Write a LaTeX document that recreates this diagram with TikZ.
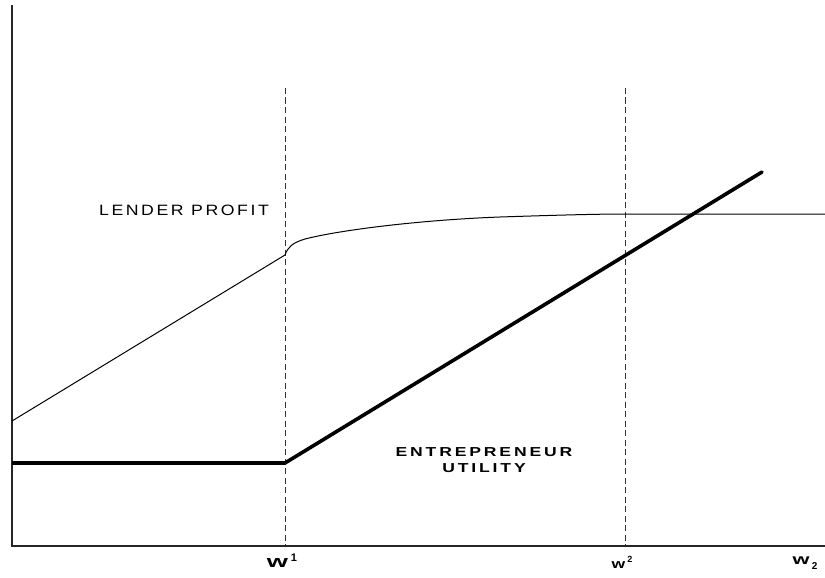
\documentclass[tikz,border=0pt]{standalone}
\usepackage{fontspec}
\usepackage{graphicx}
\setmainfont{Liberation Sans}
\newfontfamily\lblfont[FakeStretch=1.18,LetterSpace=17]{Liberation Sans}
\newfontfamily\boldlblfont[FakeStretch=1.35,LetterSpace=22]{Liberation Sans Bold}
\newfontfamily\wfont{Liberation Sans Bold}
\begin{document}
\begin{tikzpicture}[x=1pt,y=-1pt,
  axisline/.style={line width=1.4pt,black!85},
  guide/.style={line width=1pt,dash pattern=on 6pt off 3.5pt,black!80},
  thinline/.style={line width=1pt,black},
  thickline/.style={line width=3.6pt,black,line cap=round},
  lbl/.style={inner sep=0pt,font=\lblfont\fontsize{15}{17}\selectfont},
  blbl/.style={inner sep=0pt,align=center,font=\boldlblfont\fontsize{13}{15.5}\selectfont},
  wlbl/.style={inner sep=0pt,anchor=base}]
\useasboundingbox (0,0) rectangle (825,578);
% coordinates
\coordinate (ytop) at (12,5);
\coordinate (O) at (12,546);
\coordinate (xend) at (825,546);
\coordinate (d1top) at (285,88);
\coordinate (d1bot) at (285,546);
\coordinate (d2top) at (625,88);
\coordinate (d2bot) at (625,546);
\coordinate (lp0) at (12,421);
\coordinate (lp1) at (285,255);
\coordinate (lpa) at (305,239);
\coordinate (lpb) at (500,217);
\coordinate (lp2) at (625,214);
\coordinate (lp3) at (825,214);
\coordinate (eu0) at (12,463);
\coordinate (eu1) at (285,463);
\coordinate (eu2) at (762,172);
% dashed guides
\draw[guide] (d1top) -- (d1bot);
\draw[guide] (d2top) -- (d2bot);
% axes
\draw[axisline] (ytop) -- (O) -- (xend);
% lender profit
\draw[thinline] (lp0) -- (lp1)
  .. controls (288,247) and (292,243) .. (lpa)
  .. controls (340,230) and (420,220) .. (lpb)
  .. controls (560,215) and (600,214) .. (lp2) -- (lp3);
% entrepreneur utility
\draw[thickline,line cap=butt] (eu0) -- (eu1);
\draw[thickline,line join=miter] (eu1) -- (eu2);
% labels
\node[lbl] (lender) at (184,210.5) {LENDER PROFIT};
\node[blbl] (entre) at (484,460) {ENTREPRENEUR\\UTILITY};
\node[wlbl] (w1) at (282,567) {\wfont\fontsize{17}{17}\selectfont\scalebox{1.6}[1]{w}\,\raisebox{6pt}{\fontsize{11}{11}\selectfont 1}};
\node[wlbl] (w2) at (622,568) {\wfont\fontsize{13}{13}\selectfont\scalebox{1.35}[1]{w}\,\raisebox{6pt}{\fontsize{9}{9}\selectfont 2}};
\node[wlbl] (w3) at (805,564.5) {\wfont\fontsize{14.5}{14.5}\selectfont\scalebox{1.5}[1]{w}\,\raisebox{-5pt}{\fontsize{10}{10}\selectfont 2}};
\end{tikzpicture}
\end{document}
